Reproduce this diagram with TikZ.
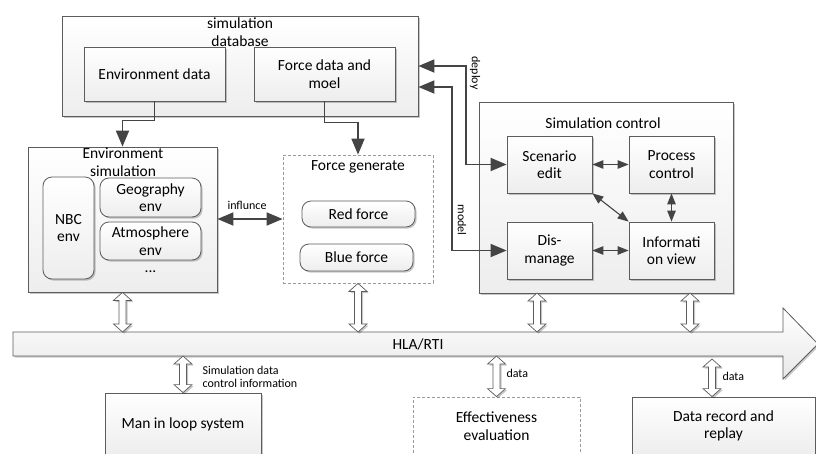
\documentclass[tikz,border=0pt]{standalone}
\usepackage{fontspec}
\setmainfont{Carlito}
\usetikzlibrary{arrows.meta,shadows,calc}

\definecolor{linegray}{HTML}{5C5C5C}
\definecolor{arrowgray}{HTML}{444444}
\definecolor{dashgray}{HTML}{9A9A9A}

\tikzset{
  txt/.style={font=\fontsize{15.5}{17.5}\selectfont, align=center},
  small/.style={font=\fontsize{12}{12.5}\selectfont},
  shade/.style={top color=white, bottom color=black!7},
  shadowed/.style={drop shadow={shadow xshift=1.6pt, shadow yshift=-1.6pt, opacity=0.22, fill=black}},
  box/.style={draw=linegray, line width=0.8pt, shade, shadowed, inner sep=0pt, txt},
  rbox/.style={box, rounded corners=9pt},
  dbox/.style={draw=dashgray, dash pattern=on 3pt off 2pt, line width=0.8pt, fill=white, inner sep=0pt, txt},
  bigline/.style={draw=arrowgray, line width=1.8pt},
  bigtip/.style={-{Triangle[length=16pt,width=13pt]}},
  bigtips/.style={{Triangle[length=16pt,width=13pt]}-{Triangle[length=16pt,width=13pt]}},
  smallline/.style={draw=arrowgray, line width=1.1pt, {Triangle[length=11pt,width=8.5pt]}-{Triangle[length=11pt,width=8.5pt]}},
  hollow/.style={draw=linegray, line width=0.7pt, fill=white, shadowed,
    to path={let \p1=(\tikztostart), \p2=(\tikztotarget) in
      -- (\x1+9pt,\y1-8pt) -- (\x1+3.5pt,\y1-8pt) -- (\x1+3.5pt,\y2+8pt)
      -- (\x1+9pt,\y2+8pt) -- (\x1,\y2) -- (\x1-9pt,\y2+8pt)
      -- (\x1-3.5pt,\y2+8pt) -- (\x1-3.5pt,\y1-8pt) -- (\x1-9pt,\y1-8pt) -- cycle}},
}

\begin{document}
\begin{tikzpicture}[x=1pt, y=-1pt]
\useasboundingbox (0,0) rectangle (816,453);

% simulation database
\node[box, minimum width=356, minimum height=100] (db) at (240,66) {};
\node[txt] (dbtitle) at (240,32) {simulation\\database};
\node[box, minimum width=141, minimum height=54] (envdata) at (154.5,74) {Environment data};
\node[box, minimum width=141, minimum height=54] (forcedata) at (324.5,74) {Force data and\\moel};

% environment simulation
\node[box, minimum width=189, minimum height=145] (envsim) at (122.5,219.5) {};
\node[txt] (envtitle) at (123,162) {Environment\\simulation};
\node[rbox, minimum width=51, minimum height=102] (nbc) at (68.5,228) {NBC\\env};
\node[rbox, minimum width=101, minimum height=39] (geo) at (150.5,197.5) {Geography\\env};
\node[rbox, minimum width=101, minimum height=38] (atm) at (150.5,241) {Atmosphere\\env};
\node[txt] (dots) at (150.5,272) {...};

% force generate
\node[dbox, minimum width=150, minimum height=128] (forcegen) at (358,219) {};
\node[txt] (fgtitle) at (358,167) {Force generate};
\node[rbox, minimum width=113, minimum height=26] (red) at (358.5,214) {Red force};
\node[rbox, minimum width=113, minimum height=27] (blue) at (356.5,257.5) {Blue force};

% simulation control
\node[box, minimum width=254, minimum height=191] (simctrl) at (606,197.5) {};
\node[txt] (sctitle) at (603,123) {Simulation control};
\node[box, minimum width=85, minimum height=57] (scen) at (549.5,164.5) {Scenario\\edit};
\node[box, minimum width=85, minimum height=57] (proc) at (671.5,164.5) {Process\\control};
\node[box, minimum width=85, minimum height=57] (dism) at (549.5,250.5) {Dis-\\manage};
\node[box, minimum width=85, minimum height=57] (info) at (671.5,250.5) {Informati\\on view};

% bottom systems
\node[box, minimum width=156, minimum height=62] (man) at (183,424) {Man in loop system};
\node[dbox, minimum width=167, minimum height=58] (eff) at (496.5,426) {Effectiveness\\evaluation};
\node[box, minimum width=183, minimum height=58] (rec) at (723.5,426) {Data record and\\replay};

% HLA/RTI bus
\coordinate (busN) at (0,332);
\coordinate (busS) at (0,356);
\path[draw=linegray, line width=0.8pt, top color=white, bottom color=black!9, shadowed]
  (13,332) -- (783,332) -- (783,308) -- (818,344) -- (783,379) -- (783,356) -- (13,356) -- cycle;
\node[txt] (bus) at (418,344) {HLA/RTI};

% data flow from the database
\draw[bigline, bigtip] (envdata.south) -- ++(0,19) -| (envsim.north);
\draw[bigline, bigtip] (forcedata.south) -- ++(0,21) -| (forcegen.north);
\draw[bigline, bigtips] (db.east) -| ($(scen.west)+(-41,0)$) -- (scen.west);
\draw[bigline, bigtips] ($(db.east)+(0,21)$) -| ($(dism.west)+(-55,0)$) -- (dism.west);
\node[small, rotate=-90] (deploylbl) at (475,73) {deploy};
\node[small, rotate=-90] (modellbl) at (462,220) {model};

% influence between environment and forces
\draw[bigline, bigtips] (envsim.east |- forcegen.west) -- (forcegen.west);
\node[small] (inflbl) at (247,205) {influnce};

% simulation control internals
\draw[smallline] (scen.east) -- (proc.west);
\draw[smallline] (dism.east) -- (info.west);
\draw[smallline] (proc.south) -- (info.north);
\draw[smallline] (scen.south east) -- (info.north west);

% RTI connections
\coordinate (c3) at (537,293);
\coordinate (c4) at (690,293);
\draw[hollow] (envsim.south) to (envsim.south |- busN);
\draw[hollow] (forcegen.south) to (forcegen.south |- busN);
\draw[hollow] (c3) to (c3 |- busN);
\draw[hollow] (c4) to (c4 |- busN);
\draw[hollow] (man.north |- busS) to (man.north);
\draw[hollow] (eff.north |- busS) to (eff.north);
\draw[hollow] ($(rec.north |- busS)+(-11.5,3)$) to ($(rec.north)+(-11.5,0)$);

\node[small, align=left, anchor=west] (mlbl) at (199,377) {Simulation data\\control information};
\node[small, anchor=west] (elbl) at (503,373) {data};
\node[small, anchor=west] (rlbl) at (719,376) {data};
\end{tikzpicture}
\end{document}
